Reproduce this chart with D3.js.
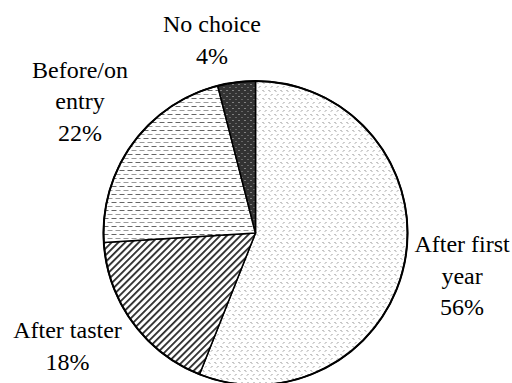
<!DOCTYPE html>
<html>
<head>
<meta charset="utf-8">
<script src="https://cdn.jsdelivr.net/npm/d3@7"></script>
</head>
<body style="margin:0">
<svg id="chart" width="512" height="383"></svg>
<script>
// When students chose their course of study (share of respondents)
const categories = ["After first year", "After taster", "Before/on entry", "No choice"];
const values = [56, 18, 22, 4];
const labelLines = [["After first", "year", "56%"], ["After taster", "18%"], ["Before/on", "entry", "22%"], ["No choice", "4%"]];
const fills = ["url(#dots)", "url(#stripes)", "url(#dashes)", "url(#dark)"];

const cx = 255.5, cy = 233, radius = 152;
const labelRadius = 212;
const lineHeight = 31.7;
// Fine placement of each label block relative to its slice direction
const labelNudge = [[-1.7, 10.9], [-16.5, -3.4], [-4, 1], [-17, 25.1]];

const svg = d3.select("#chart");
const defs = svg.append("defs");

// Light speckle texture
const dots = defs.append("pattern").attr("id", "dots")
  .attr("patternUnits", "userSpaceOnUse").attr("width", 6).attr("height", 8);
dots.append("rect").attr("width", 6).attr("height", 8).attr("fill", "#fff");
dots.append("rect").attr("x", 1).attr("y", 1).attr("width", 1).attr("height", 1).attr("fill", "#888");
dots.append("rect").attr("x", 2).attr("y", 2).attr("width", 1).attr("height", 1).attr("fill", "#aaa");
dots.append("rect").attr("x", 4).attr("y", 5).attr("width", 1).attr("height", 1).attr("fill", "#999");
dots.append("rect").attr("x", 3).attr("y", 6).attr("width", 1).attr("height", 1).attr("fill", "#bbb");

// Diagonal hatching
const stripes = defs.append("pattern").attr("id", "stripes")
  .attr("patternUnits", "userSpaceOnUse").attr("width", 10).attr("height", 4.8)
  .attr("patternTransform", "rotate(-45)");
stripes.append("rect").attr("width", 10).attr("height", 4.8).attr("fill", "#fff");
stripes.append("rect").attr("width", 10).attr("height", 1.8).attr("fill", "#2a2a2a");

// Horizontal dashes
const dashes = defs.append("pattern").attr("id", "dashes")
  .attr("patternUnits", "userSpaceOnUse").attr("width", 8).attr("height", 8);
dashes.append("rect").attr("width", 8).attr("height", 8).attr("fill", "#fff");
dashes.append("rect").attr("x", 0).attr("y", 1).attr("width", 5).attr("height", 1).attr("fill", "#666");
dashes.append("rect").attr("x", 4).attr("y", 5).attr("width", 5).attr("height", 1).attr("fill", "#999");
dashes.append("rect").attr("x", -4).attr("y", 5).attr("width", 5).attr("height", 1).attr("fill", "#999");

// Dark fill with pale specks
const dark = defs.append("pattern").attr("id", "dark")
  .attr("patternUnits", "userSpaceOnUse").attr("width", 6).attr("height", 6);
dark.append("rect").attr("width", 6).attr("height", 6).attr("fill", "#333");
dark.append("rect").attr("x", 1).attr("y", 1).attr("width", 1).attr("height", 1).attr("fill", "#ccc");
dark.append("rect").attr("x", 4).attr("y", 4).attr("width", 1).attr("height", 1).attr("fill", "#999");

const data = categories.map((c, i) => ({ category: c, value: values[i], index: i }));

const pie = d3.pie().sort(null).value(d => d.value).startAngle(0).endAngle(2 * Math.PI);
const arcs = pie(data);

const arc = d3.arc().innerRadius(0).outerRadius(radius);
const labelArc = d3.arc().innerRadius(labelRadius).outerRadius(labelRadius);

const g = svg.append("g").attr("transform", `translate(${cx},${cy})`);

g.selectAll("path.slice")
  .data(arcs)
  .join("path")
  .attr("class", "slice")
  .attr("d", arc)
  .attr("fill", d => fills[d.data.index])
  .attr("stroke", "#000")
  .attr("stroke-width", 1.5)
  .attr("stroke-linejoin", "round");

g.append("circle")
  .attr("r", radius)
  .attr("fill", "none")
  .attr("stroke", "#000")
  .attr("stroke-width", 2);

// One text element per label line, positioned around the slice's mid-angle
const lineItems = [];
arcs.forEach(d => {
  const [x, y] = labelArc.centroid(d);
  const [nx, ny] = labelNudge[d.data.index];
  const lines = labelLines[d.data.index];
  const start = -(lines.length - 1) * lineHeight / 2;
  lines.forEach((text, i) => {
    lineItems.push({ text, x: cx + x + nx, y: cy + y + ny + start + i * lineHeight });
  });
});

svg.selectAll("text.label")
  .data(lineItems)
  .join("text")
  .attr("class", "label")
  .attr("x", d => d.x)
  .attr("y", d => d.y)
  .attr("text-anchor", "middle")
  .attr("font-family", "Liberation Serif")
  .attr("font-size", 24)
  .text(d => d.text);
</script>
</body>
</html>
